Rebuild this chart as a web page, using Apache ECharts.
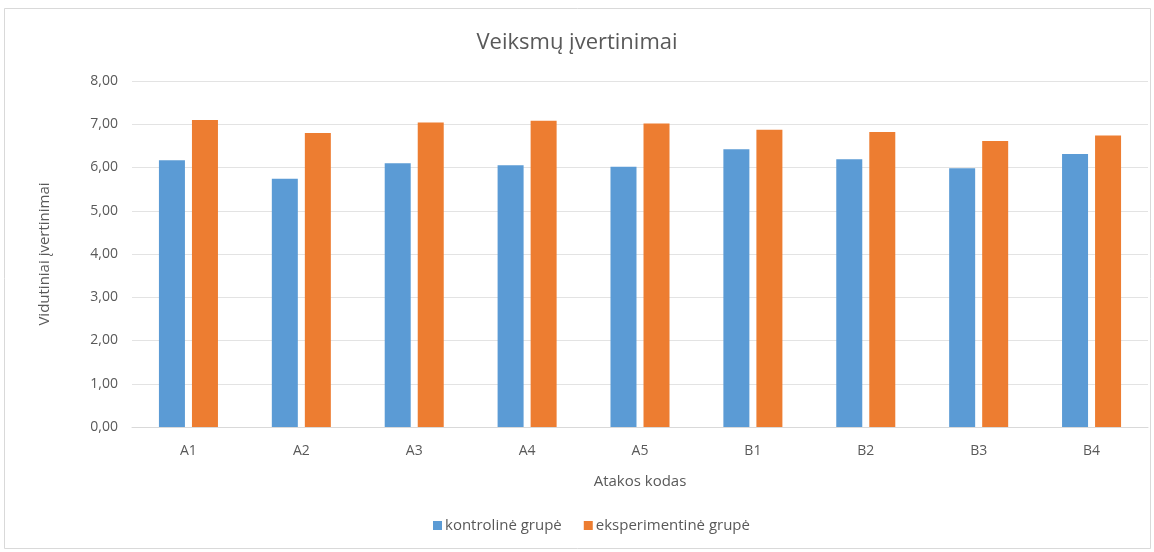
<!DOCTYPE html>
<html>
<head>
<meta charset="utf-8">
<script src="https://cdn.jsdelivr.net/npm/echarts@6/dist/echarts.min.js"></script>
<style>
html, body { margin: 0; padding: 0; background: #fff; }
#chart { width: 1154px; height: 552px; }
</style>
</head>
<body>
<div id="chart"></div>
<script>
var categories = ['A1', 'A2', 'A3', 'A4', 'A5', 'B1', 'B2', 'B3', 'B4'];
var kontrolineGrupe = [6.17, 5.74, 6.10, 6.05, 6.02, 6.42, 6.19, 5.98, 6.31];
var eksperimentineGrupe = [7.10, 6.80, 7.04, 7.08, 7.02, 6.87, 6.82, 6.61, 6.74];
var seriesNames = ['kontrolinė grupė', 'eksperimentinė grupė'];

var fontName = '"Open Sans", "Noto Sans", sans-serif';
var textGray = '#595959';

var myChart = echarts.init(document.getElementById('chart'));

var option = {
    backgroundColor: '#fff',
    textStyle: { fontFamily: fontName },
    graphic: [{
        type: 'rect',
        shape: { x: 4.5, y: 8.5, width: 1146, height: 540 },
        style: { fill: 'none', stroke: '#d9d9d9', lineWidth: 1 },
        silent: true
    }],
    title: {
        text: 'Veiksmų įvertinimai',
        left: 'center',
        top: 27,
        textStyle: { fontSize: 22, fontWeight: 'normal', color: textGray, fontFamily: fontName }
    },
    legend: {
        data: seriesNames,
        bottom: 14,
        left: 428,
        itemWidth: 9,
        itemHeight: 9,
        itemGap: 22,
        icon: 'rect',
        textStyle: { fontSize: 15, color: textGray, fontFamily: fontName, padding: [0, 0, 0, -2] }
    },
    grid: {
        left: 132,
        right: 6,
        top: 81,
        bottom: 125
    },
    xAxis: {
        type: 'category',
        data: categories,
        name: 'Atakos kodas',
        nameLocation: 'middle',
        nameGap: 47,
        nameTextStyle: { fontSize: 15, color: textGray },
        axisLine: { lineStyle: { color: '#d9d9d9' } },
        axisTick: { show: false },
        axisLabel: { fontSize: 14, color: textGray, margin: 17 }
    },
    yAxis: {
        type: 'value',
        min: 0,
        max: 8,
        interval: 1,
        name: 'Vidutiniai įvertinimai',
        nameLocation: 'middle',
        nameGap: 80,
        nameTextStyle: { fontSize: 15, color: textGray },
        axisLine: { show: false },
        axisTick: { show: false },
        splitLine: { lineStyle: { color: '#e3e3e3' } },
        axisLabel: {
            fontSize: 14,
            color: textGray,
            margin: 14,
            formatter: function (v) { return v.toFixed(2).replace('.', ','); }
        }
    },
    series: [{
        name: seriesNames[0],
        type: 'bar',
        data: kontrolineGrupe,
        barWidth: 26,
        barGap: '27%',
        itemStyle: { color: '#5B9BD5' }
    }, {
        name: seriesNames[1],
        type: 'bar',
        data: eksperimentineGrupe,
        barWidth: 26,
        barGap: '27%',
        itemStyle: { color: '#ED7D31' }
    }]
};
myChart.setOption(option);
</script>
</body>
</html>
